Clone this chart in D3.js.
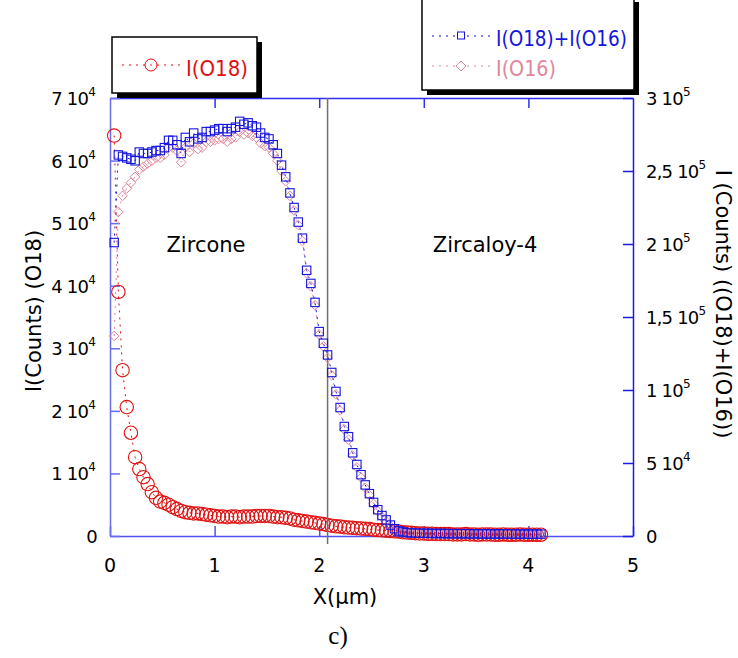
<!DOCTYPE html>
<html><head><meta charset="utf-8">
<script src="https://cdn.jsdelivr.net/npm/d3@7"></script>
<style>body{margin:0;background:#fff}svg{display:block}</style>
</head><body>
<svg id="c" width="738" height="658"></svg>
<script>
// ---- data (counts in thousands), sampled every xStep µm starting at xStep ----
const xStep = 0.04;
const o18 = [64,39,26.5,20.6,16.5,12.6,10.7,9.4,8.3,7.0,
  6.1,5.5,5.3,5.0,4.6,4.3,4.0,3.8,3.7,3.6,
  3.6,3.5,3.4,3.3,3.2,3.1,3.1,3.0,3.1,3.1,
  3.0,3.1,3.1,3.1,3.2,3.2,3.2,3.2,3.1,3.0,
  3.0,2.9,2.8,2.6,2.5,2.4,2.3,2.2,2.1,2.0,
  1.9,1.75,1.65,1.55,1.5,1.4,1.35,1.3,1.25,1.2,
  1.15,1.1,1.0,0.95,0.9,0.85,0.8,0.75,0.7,0.6,
  0.55,0.5,0.45,0.4,0.4,0.35,0.35,0.3,0.3,0.3,
  0.3,0.25,0.25,0.25,0.3,0.25,0.25,0.2,0.25,0.25,
  0.25,0.2,0.2,0.25,0.2,0.2,0.2,0.25,0.2,0.2,0.2,0.2,0.2];
const sumO = [201,261,260,259,258,257,263,262,262,263,
  264,264,266,271,271,268,262,273,270,276,
  272,273,277,277,278,279,279,277,279,280,
  284,282,283,281,280,276,273,272,268,262,
  254,246,235,225,215,204,182,173,160,140,
  132,124,112,99,88,75,68,57,49,42,
  35,29,23,18,14,11,7.5,5,3.5,2.8,
  2.3,2.1,2.0,1.9,1.9,1.8,1.8,1.7,1.7,1.7,
  1.6,1.6,1.6,1.5,1.6,1.5,1.5,1.5,1.4,1.5,
  1.4,1.4,1.5,1.4,1.4,1.4,1.3,1.4,1.3,1.3,1.3,1.3,1.3];
const o16 = [137,222,233,238,242,246,251,253,255,257,
  259,259,261,266,266,264,256,266,263,269,
  265,266,270,270,271,272,272,270,272,273,
  277,275,276,274,273,269,267,266,262,257,
  250,243,233,223,213,202,180,171,158,138,
  130,122,110,97,86,73,66,55,47,40,
  33,28,22,17,13,10,6.8,4.5,3.0,2.4,
  2.0,1.8,1.7,1.6,1.6,1.5,1.5,1.4,1.4,1.4,
  1.3,1.3,1.3,1.2,1.3,1.2,1.2,1.2,1.2,1.2,
  1.1,1.2,1.2,1.1,1.1,1.1,1.1,1.1,1.0,1.0,1.0,1.0,1.0];
const xTicks = [0,1,2,3,4,5];
const leftTicks = [[0,null],[1,4],[2,4],[3,4],[4,4],[5,4],[6,4],[7,4]];   // value = m*10^e
const rightTicks = [[0,null],[5,4],[1,5],[1.5,5],[2,5],[2.5,5],[3,5]];
const interfaceX = 2.08;

// ---- layout ----
const svg = d3.select("#c");
const FONT = "'DejaVu Sans', Verdana, sans-serif";
const x = d3.scaleLinear().domain([0,5]).range([110,633]);
const yL = d3.scaleLinear().domain([0,70000]).range([536,98]);
const yR = d3.scaleLinear().domain([0,300000]).range([536,98]);
const RED="#e01010", BLUE="#1515dd", PINK="#e0879a", AX="#5050f0";

const tv = v => v[1]===null ? 0 : v[0]*Math.pow(10,v[1]);
const lab = v => v[1]===null ? "0" : String(v[0]).replace(".",",")+" 10";

// axes
function styleAxis(g,col){ g.selectAll("path,line").attr("stroke",col).attr("stroke-width",1.5); g.selectAll("text").remove(); }
svg.append("g").attr("transform","translate(0,536)")
  .call(d3.axisBottom(x).tickValues(xTicks).tickSizeInner(-10).tickSizeOuter(0)).call(g=>styleAxis(g,AX));
svg.append("g").attr("transform","translate(0,98)")
  .call(d3.axisTop(x).tickValues(xTicks.slice(1,5)).tickSizeInner(-10).tickSizeOuter(0)).call(g=>styleAxis(g,"#3030ee"));
svg.append("g").attr("transform","translate(110,0)")
  .call(d3.axisLeft(yL).tickValues(leftTicks.map(tv)).tickSizeInner(-10).tickSizeOuter(0)).call(g=>styleAxis(g,"#6a6af0"));
svg.append("g").attr("transform","translate(633,0)")
  .call(d3.axisRight(yR).tickValues(rightTicks.map(tv)).tickSizeInner(-10).tickSizeOuter(0)).call(g=>styleAxis(g,"#1a1ae6"));

// tick labels
svg.append("g").selectAll("text").data(xTicks).join("text")
  .attr("x",d=>x(d)).attr("y",572).attr("text-anchor","middle")
  .attr("font-family",FONT).attr("font-size",19).text(d=>d);
function supLabels(ticks,scale,xp,anchor){
  const g = svg.append("g");
  ticks.forEach(v=>{
    const t = g.append("text").attr("x",xp(v)).attr("y",scale(tv(v))+7)
      .attr("text-anchor",anchor).attr("font-family",FONT).attr("font-size",18).attr("letter-spacing",-0.8);
    t.append("tspan").text(lab(v));
    if(v[1]!==null) t.append("tspan").attr("font-size",12).attr("dy",-9).text(v[1]);
  });
}
supLabels(leftTicks,yL,v=>v[1]===null?97:95,"end");
supLabels(rightTicks,yR,()=>646,"start");

// axis titles
svg.append("text").attr("x",345).attr("y",604).attr("text-anchor","middle")
  .attr("font-family",FONT).attr("font-size",21).text("X(\u00b5m)");
svg.append("text").attr("transform","translate(41,311) rotate(-90)").attr("text-anchor","middle")
  .attr("font-family",FONT).attr("font-size",21).text("I(Counts) (O18)");
svg.append("text").attr("transform","translate(716,304) rotate(90)").attr("text-anchor","middle")
  .attr("font-family",FONT).attr("font-size",21).text("I (Counts) ((O18)+I(O16))");
svg.append("text").attr("x",338).attr("y",644).attr("text-anchor","middle")
  .attr("font-family","'Liberation Serif','Times New Roman',serif").attr("font-size",25).text("c)");

// region labels
svg.append("text").attr("x",206).attr("y",252).attr("text-anchor","middle")
  .attr("font-family",FONT).attr("font-size",21).text("Zircone");
svg.append("text").attr("x",485).attr("y",252).attr("text-anchor","middle")
  .attr("font-family",FONT).attr("font-size",21).text("Zircaloy-4");

// data
const X = i => x(xStep*(i+1));
const line = (arr,sc) => d3.line().x((d,i)=>X(i)).y(d=>sc(d*1000))(arr);
svg.append("path").attr("d",line(o18,yL)).attr("fill","none").attr("stroke",RED).attr("stroke-width",1).attr("stroke-dasharray","2,5");
svg.append("path").attr("d",line(o16,yR)).attr("fill","none").attr("stroke",PINK).attr("stroke-width",1).attr("stroke-dasharray","2,5");
svg.append("path").attr("d",line(sumO,yR)).attr("fill","none").attr("stroke",BLUE).attr("stroke-width",1).attr("stroke-dasharray","2,5");

svg.append("g").selectAll("circle").data(o18).join("circle")
  .attr("cx",(d,i)=>X(i)).attr("cy",d=>yL(d*1000)).attr("r",6.7)
  .attr("fill","none").attr("stroke",RED).attr("stroke-width",1.1);

svg.append("line").attr("x1",x(interfaceX)).attr("x2",x(interfaceX)).attr("y1",98).attr("y2",544)
  .attr("stroke","#707070").attr("stroke-width",1.5);

svg.append("g").selectAll("path").data(o16).join("path")
  .attr("d",(d,i)=>{const cx=X(i),cy=yR(d*1000),r=4.8;return `M${cx},${cy-r}L${cx+r},${cy}L${cx},${cy+r}L${cx-r},${cy}Z`;})
  .attr("fill","none").attr("stroke",PINK).attr("stroke-width",1);
svg.append("g").selectAll("rect").data(sumO).join("rect")
  .attr("x",(d,i)=>X(i)-4.2).attr("y",d=>yR(d*1000)-4.2).attr("width",8.4).attr("height",8.4)
  .attr("fill","none").attr("stroke",BLUE).attr("stroke-width",1.1);

// legends
function box(x0,y0,w,h){
  svg.append("rect").attr("x",x0+5).attr("y",y0+5).attr("width",w).attr("height",h).attr("fill","#000");
  svg.append("rect").attr("x",x0).attr("y",y0).attr("width",w).attr("height",h).attr("fill","#fff").attr("stroke","#000").attr("stroke-width",1.5);
}
box(112,37,145,56);
svg.append("line").attr("x1",122).attr("x2",180).attr("y1",65).attr("y2",65).attr("stroke",RED).attr("stroke-dasharray","2,5");
svg.append("circle").attr("cx",151).attr("cy",65).attr("r",6).attr("fill","#fff").attr("stroke",RED);
svg.append("circle").attr("cx",151).attr("cy",65).attr("r",0.8).attr("fill",RED);
svg.append("text").attr("x",186).attr("y",76).attr("font-family",FONT).attr("font-size",22).attr("fill",RED)
  .attr("textLength",62).attr("lengthAdjust","spacingAndGlyphs").text("I(O18)");

box(422,-3,212,93);
svg.append("line").attr("x1",432).attr("x2",490).attr("y1",36).attr("y2",36).attr("stroke",BLUE).attr("stroke-dasharray","2,5");
svg.append("rect").attr("x",457.5).attr("y",32).attr("width",7).attr("height",7).attr("fill","#fff").attr("stroke",BLUE);
svg.append("text").attr("x",496).attr("y",46).attr("font-family",FONT).attr("font-size",22).attr("fill",BLUE)
  .attr("textLength",131).attr("lengthAdjust","spacingAndGlyphs").text("I(O18)+I(O16)");
svg.append("line").attr("x1",432).attr("x2",490).attr("y1",66).attr("y2",66).attr("stroke",PINK).attr("stroke-dasharray","2,5");
svg.append("path").attr("d","M461,61L466,66L461,71L456,66Z").attr("fill","#fff").attr("stroke",PINK);
svg.append("text").attr("x",496).attr("y",76).attr("font-family",FONT).attr("font-size",22).attr("fill",PINK)
  .attr("textLength",60).attr("lengthAdjust","spacingAndGlyphs").text("I(O16)");
</script>
</body></html>
